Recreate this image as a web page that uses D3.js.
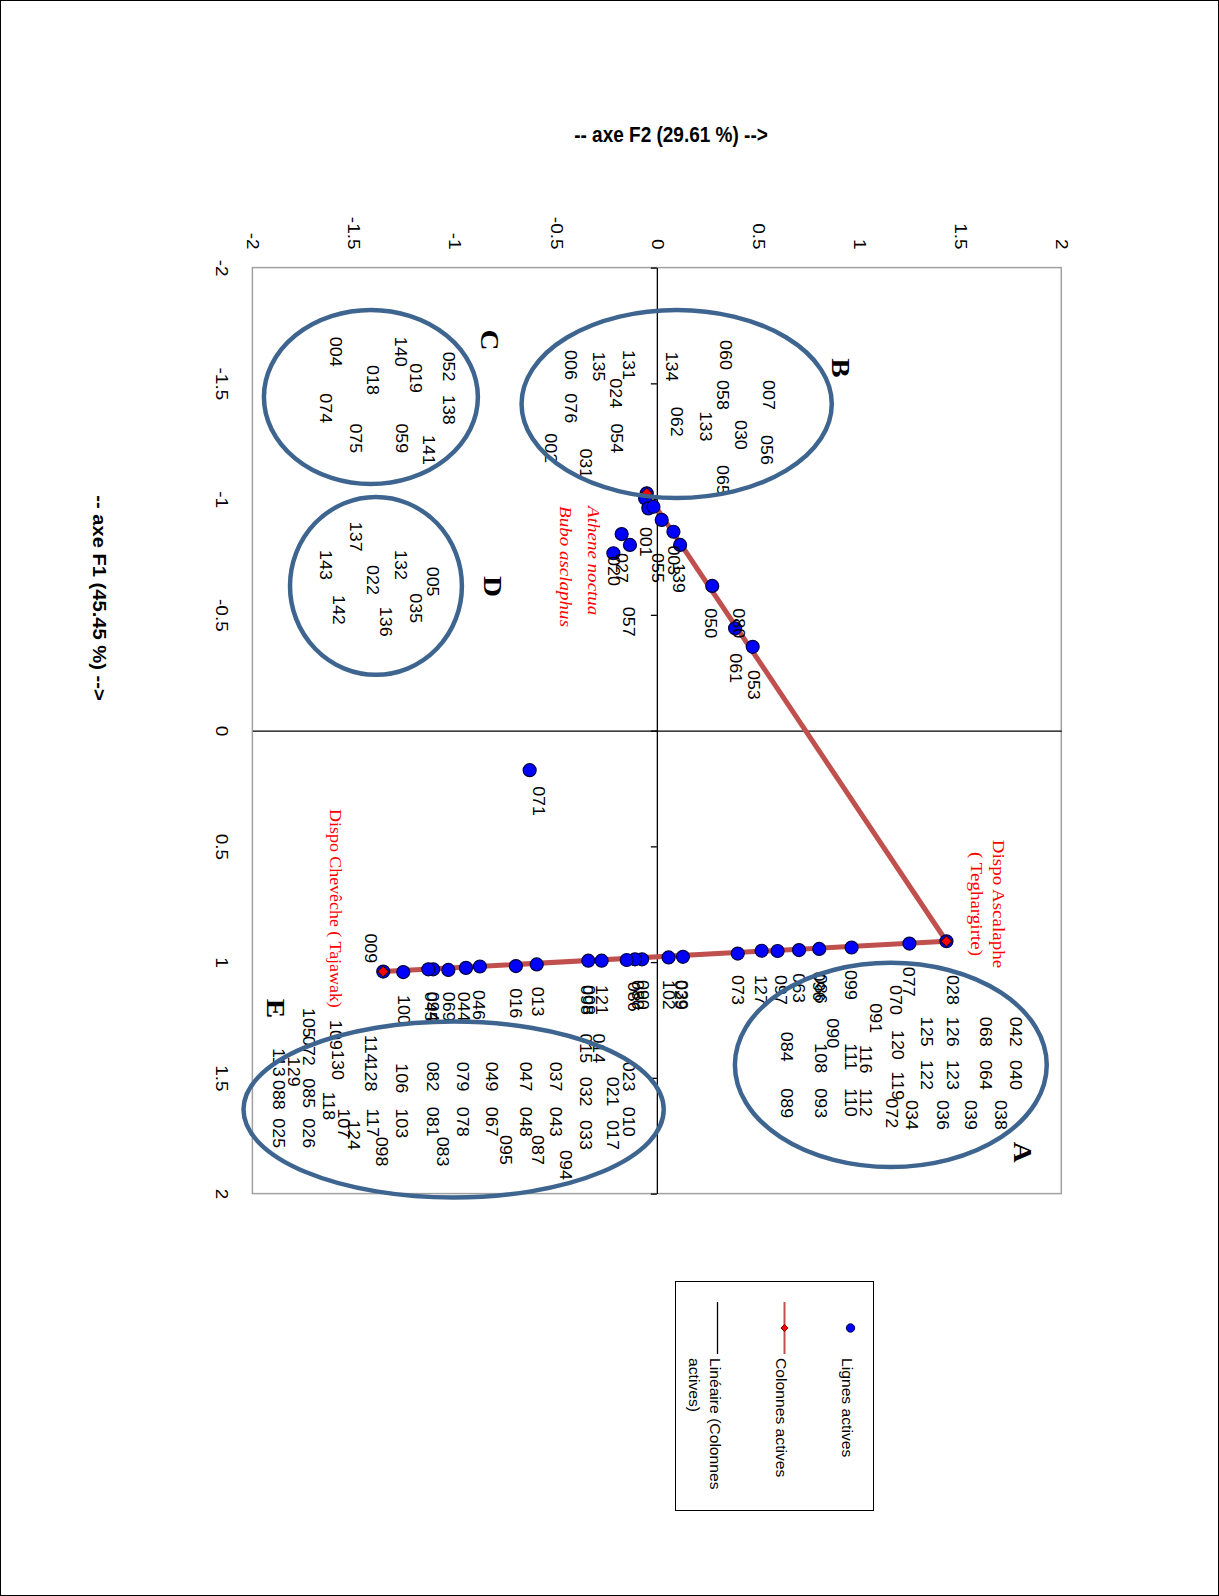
<!DOCTYPE html>
<html>
<head>
<meta charset="utf-8">
<script src="https://cdn.jsdelivr.net/npm/d3@7"></script>
<style>
  body { margin: 0; background: #fff; }
</style>
</head>
<body>
<script>
// axis ticks
const ticks = [-2, -1.5, -1, -0.5, 0, 0.5, 1, 1.5, 2];
const titleF2 = '-- axe F2 (29.61 %) -->';
const titleF1 = '-- axe F1 (45.45 %) -->';

// active columns [name, F2, F1] in line order
const columns = [
  ['Bubo', -0.050, -1.025],
  ['Ascalaphe', 1.432, 0.910],
  ['Cheveche', -1.353, 1.041]
];

// active rows (blue dots) [F2, F1]
const dotsTop = [
  [-0.050, -1.025], [-0.058, -1.003], [-0.042, -0.960], [-0.017, -0.967], [0.024, -0.910],
  [0.082, -0.859], [0.115, -0.802], [0.274, -0.625], [0.387, -0.442], [0.474, -0.362]
];
const dotsLoose = [
  [-0.174, -0.849], [-0.133, -0.802], [-0.215, -0.766], [-0.629, 0.171]
];
const dotsBottom = [
  [1.432, 0.910], [1.249, 0.920], [0.963, 0.937], [0.803, 0.943], [0.703, 0.948], [0.597, 0.952],
  [0.518, 0.951], [0.400, 0.963], [0.129, 0.977], [0.058, 0.980], [-0.073, 0.988],
  [-0.108, 0.988], [-0.149, 0.991], [-0.273, 0.994], [-0.339, 0.994], [-0.594, 1.010],
  [-0.697, 1.017], [-0.875, 1.019], [-0.944, 1.025], [-1.031, 1.034], [-1.106, 1.031],
  [-1.130, 1.031], [-1.254, 1.043], [-1.353, 1.041]
];

// row labels [text, F2, F1] (start of the text)
const labelsB = [
  ['007', 0.551, -1.514], ['056', 0.543, -1.277], ['060', 0.337, -1.687], ['058', 0.321, -1.514],
  ['030', 0.411, -1.342], ['133', 0.238, -1.378], ['065', 0.321, -1.147], ['134', 0.073, -1.637],
  ['062', 0.098, -1.399], ['131', -0.141, -1.644], ['135', -0.290, -1.637], ['024', -0.207, -1.522],
  ['006', -0.430, -1.644], ['076', -0.430, -1.457], ['054', -0.199, -1.327], ['031', -0.355, -1.219],
  ['002', -0.528, -1.284]
];
const labelsC = [
  ['052', -1.031, -1.637], ['138', -1.031, -1.450], ['141', -1.130, -1.277], ['059', -1.262, -1.327],
  ['019', -1.196, -1.587], ['140', -1.270, -1.701], ['018', -1.410, -1.579], ['004', -1.592, -1.701],
  ['074', -1.641, -1.457], ['075', -1.493, -1.327]
];
const labelsD = [
  ['005', -1.113, -0.708], ['035', -1.196, -0.593], ['132', -1.270, -0.780], ['136', -1.344, -0.535],
  ['022', -1.410, -0.715], ['142', -1.575, -0.586], ['137', -1.493, -0.902], ['143', -1.641, -0.780]
];
const labelsNear = [
  ['001', -0.059, -0.880], ['055', 0.000, -0.767], ['003', 0.080, -0.800], ['139', 0.106, -0.724],
  ['027', -0.174, -0.767], ['020', -0.215, -0.754], ['057', -0.141, -0.535], ['050', 0.263, -0.528],
  ['080', 0.403, -0.528], ['061', 0.386, -0.334], ['053', 0.477, -0.262], ['071', -0.585, 0.240]
];
const labelsLine = [
  ['028', 1.458, 1.056], ['077', 1.244, 1.020], ['070', 1.178, 1.099], ['091', 1.079, 1.178],
  ['099', 0.955, 1.034], ['096', 0.798, 1.041], ['086', 0.807, 1.051], ['063', 0.700, 1.048],
  ['097', 0.609, 1.056], ['127', 0.510, 1.056], ['073', 0.395, 1.056], ['029', 0.114, 1.077],
  ['039', 0.119, 1.077], ['102', 0.057, 1.077], ['086', -0.116, 1.085], ['080', -0.098, 1.077],
  ['090', -0.075, 1.077], ['121', -0.273, 1.099], ['098', -0.347, 1.099], ['008', -0.340, 1.099],
  ['013', -0.594, 1.106], ['016', -0.701, 1.113], ['046', -0.883, 1.121], ['044', -0.957, 1.128],
  ['069', -1.031, 1.128], ['045', -1.122, 1.128], ['094', -1.112, 1.128], ['100', -1.254, 1.142],
  ['009', -1.419, 0.876]
];
const labelsA = [
  ['042', 1.771, 1.236], ['040', 1.771, 1.423], ['038', 1.697, 1.596], ['068', 1.623, 1.236],
  ['064', 1.623, 1.423], ['039', 1.549, 1.596], ['126', 1.458, 1.236], ['123', 1.458, 1.423],
  ['036', 1.409, 1.596], ['125', 1.334, 1.236], ['122', 1.334, 1.423], ['034', 1.260, 1.596],
  ['120', 1.186, 1.293], ['119', 1.186, 1.473], ['072', 1.161, 1.588], ['116', 1.029, 1.358],
  ['112', 1.029, 1.545], ['111', 0.955, 1.351], ['110', 0.955, 1.545], ['090', 0.865, 1.243],
  ['108', 0.807, 1.351], ['093', 0.807, 1.545], ['084', 0.639, 1.301], ['089', 0.639, 1.545]
];
const labelsE = [
  ['105', -1.725, 1.198], ['072', -1.725, 1.319], ['109', -1.592, 1.250], ['130', -1.583, 1.380],
  ['114', -1.419, 1.315], ['128', -1.419, 1.430], ['106', -1.262, 1.437], ['103', -1.262, 1.632],
  ['117', -1.410, 1.632], ['098', -1.361, 1.754], ['082', -1.113, 1.430], ['081', -1.113, 1.625],
  ['083', -1.064, 1.754], ['079', -0.965, 1.430], ['078', -0.965, 1.625], ['049', -0.817, 1.430],
  ['067', -0.817, 1.625], ['095', -0.751, 1.747], ['047', -0.652, 1.430], ['048', -0.652, 1.625],
  ['087', -0.594, 1.747], ['037', -0.504, 1.430], ['043', -0.504, 1.625], ['094', -0.454, 1.812],
  ['015', -0.355, 1.308], ['014', -0.290, 1.308], ['032', -0.355, 1.495], ['033', -0.355, 1.682],
  ['023', -0.141, 1.430], ['021', -0.223, 1.495], ['010', -0.141, 1.625], ['017', -0.223, 1.682],
  ['113', -1.872, 1.372], ['129', -1.798, 1.409], ['088', -1.872, 1.509], ['025', -1.872, 1.675],
  ['085', -1.724, 1.502], ['026', -1.724, 1.675], ['118', -1.625, 1.560], ['107', -1.551, 1.632],
  ['124', -1.501, 1.682]
];

// groups: [letter, centre F2, centre F1, radius F2, radius F1, letter F2, letter F1]
const groups = [
  ['A', 1.157, 1.444, 0.771, 0.441, 1.812, 1.821],
  ['B', 0.098, -1.411, 0.767, 0.406, 0.910, -1.566],
  ['C', -1.414, -1.441, 0.529, 0.376, -0.825, -1.687],
  ['D', -1.389, -0.625, 0.425, 0.384, -0.809, -0.622],
  ['E', -1.005, 1.637, 1.039, 0.380, -1.882, 1.200]
];

// red column captions
const speciesLabels = [
  ['Athene noctua', -0.311, -0.970],
  ['Bubo asclaphus', -0.449, -0.970]
];
const ascalapheLines = ['Dispo Ascalaphe', '( Teghargirte)'];
const chevecheLabel = ['Dispo Chevêche ( Tajawak)', -1.589, 0.339];

const legendItems = ['Lignes actives', 'Colonnes actives', 'Linéaire  (Colonnes', 'actives)'];

const width = 1219;
const height = 1596;
const plot = { left: 252.4, right: 1061.3, top: 267.6, bottom: 1193.6 };
const K = 1.12; // the picture is stretched along the page height

const svg = d3.select('body').append('svg')
  .attr('width', width)
  .attr('height', height);

svg.append('rect')
  .attr('x', 0.5).attr('y', 0.5)
  .attr('width', width - 1).attr('height', height - 1)
  .attr('fill', '#fff').attr('stroke', '#000');

const x = d3.scaleLinear().domain([-2, 2]).range([plot.left, plot.right]);
const y = d3.scaleLinear().domain([-2, 2]).range([plot.top, plot.bottom]);

const sans = 'Liberation Sans, Arial, sans-serif';
const serif = 'Liberation Serif, Times New Roman, serif';

// plot frame
svg.append('rect')
  .attr('x', plot.left).attr('y', plot.top)
  .attr('width', plot.right - plot.left).attr('height', plot.bottom - plot.top)
  .attr('fill', 'none').attr('stroke', '#a0a0a0').attr('stroke-width', 1.5);

// tick labels
svg.append('g')
  .attr('transform', `translate(0,${plot.top - 18})`)
  .call(d3.axisTop(x).tickValues(ticks).tickFormat(d => String(d)).tickSize(0).tickPadding(0))
  .call(g => g.select('.domain').remove())
  .selectAll('text')
  .attr('y', 0).attr('dy', null)
  .attr('text-anchor', 'end')
  .attr('dominant-baseline', 'central')
  .attr('transform', `rotate(90) scale(${K},1)`)
  .attr('font-family', sans).attr('font-size', 17).attr('fill', '#000');

svg.append('g')
  .attr('transform', 'translate(222,0)')
  .call(d3.axisLeft(y).tickValues(ticks).tickFormat(d => String(d)).tickSize(0).tickPadding(0))
  .call(g => g.select('.domain').remove())
  .selectAll('text')
  .attr('x', 0).attr('dy', null)
  .attr('text-anchor', 'middle')
  .attr('dominant-baseline', 'central')
  .attr('transform', `rotate(90) scale(${K},1)`)
  .attr('font-family', sans).attr('font-size', 17).attr('fill', '#000');

// axis lines through the origin
svg.append('g')
  .attr('transform', `translate(${x(0)},0)`)
  .call(d3.axisLeft(y).tickValues(ticks).tickFormat('').tickSize(6).tickSizeOuter(0))
  .call(g => g.selectAll('path, line').attr('stroke', '#000').attr('stroke-width', 1.3));

svg.append('g')
  .attr('transform', `translate(0,${y(0)})`)
  .call(d3.axisTop(x).tickValues(ticks).tickFormat('').tickSize(0).tickSizeOuter(0))
  .call(g => g.selectAll('path, line').attr('stroke', '#000').attr('stroke-width', 1.3));

// axis titles
svg.append('text')
  .attr('transform', `translate(671,134) scale(1,1.18)`)
  .attr('text-anchor', 'middle').attr('dominant-baseline', 'central')
  .attr('font-family', sans).attr('font-weight', 'bold').attr('font-size', 19)
  .text(titleF2);

svg.append('text')
  .attr('transform', `translate(99,598) rotate(90) scale(${K},1)`)
  .attr('text-anchor', 'middle').attr('dominant-baseline', 'central')
  .attr('font-family', sans).attr('font-weight', 'bold').attr('font-size', 18)
  .text(titleF1);

// columns line
const line = d3.line().x(d => x(d[1])).y(d => y(d[2]));
svg.append('path')
  .datum(columns)
  .attr('d', line)
  .attr('fill', 'none')
  .attr('stroke', '#c0504d')
  .attr('stroke-width', 5)
  .attr('stroke-linejoin', 'round');

// rows
svg.append('g')
  .selectAll('circle')
  .data(dotsTop.concat(dotsLoose, dotsBottom))
  .join('circle')
  .attr('cx', d => x(d[0]))
  .attr('cy', d => y(d[1]))
  .attr('r', 6.5)
  .attr('fill', '#0000ff')
  .attr('stroke', '#000040')
  .attr('stroke-width', 1.2);

// column markers
const diamond = d3.symbol().type(d3.symbolSquare).size(60);
svg.append('g')
  .selectAll('path')
  .data(columns)
  .join('path')
  .attr('d', diamond)
  .attr('transform', d => `translate(${x(d[1])},${y(d[2])}) rotate(45)`)
  .attr('fill', '#ff0000')
  .attr('stroke', '#200000')
  .attr('stroke-width', 1);

// row labels
const allLabels = labelsB.concat(labelsC, labelsD, labelsNear, labelsLine, labelsA, labelsE);
svg.append('g')
  .selectAll('text')
  .data(allLabels)
  .join('text')
  .attr('transform', d => `translate(${x(d[1])},${y(d[2])}) rotate(90) scale(${K},1)`)
  .attr('text-anchor', 'start')
  .attr('dominant-baseline', 'central')
  .attr('font-family', sans)
  .attr('font-size', 16)
  .attr('fill', '#000')
  .text(d => d[0]);

// group ellipses and letters
svg.append('g')
  .selectAll('ellipse')
  .data(groups)
  .join('ellipse')
  .attr('cx', d => x(d[1]))
  .attr('cy', d => y(d[2]))
  .attr('rx', d => x(d[1] + d[3]) - x(d[1]))
  .attr('ry', d => y(d[2] + d[4]) - y(d[2]))
  .attr('fill', 'none')
  .attr('stroke', '#3e6590')
  .attr('stroke-width', 4.5);

svg.append('g')
  .selectAll('text')
  .data(groups)
  .join('text')
  .attr('transform', d => `translate(${x(d[5])},${y(d[6])}) rotate(90) scale(${K},1)`)
  .attr('text-anchor', 'middle')
  .attr('dominant-baseline', 'central')
  .attr('font-family', serif)
  .attr('font-weight', 'bold')
  .attr('font-size', 26)
  .text(d => d[0]);

// red captions
svg.append('g')
  .selectAll('text')
  .data(speciesLabels)
  .join('text')
  .attr('transform', d => `translate(${x(d[1])},${y(d[2])}) rotate(90) scale(${K},1)`)
  .attr('dominant-baseline', 'central')
  .attr('font-family', serif)
  .attr('font-style', 'italic')
  .attr('font-size', 17)
  .attr('fill', '#ff0000')
  .text(d => d[0]);

const asc = svg.append('text')
  .attr('transform', `translate(${x(1.690)},${y(0.749)}) rotate(90) scale(${K},1)`)
  .attr('text-anchor', 'middle')
  .attr('font-family', serif)
  .attr('font-size', 17)
  .attr('fill', '#ff0000');
asc.selectAll('tspan')
  .data(ascalapheLines)
  .join('tspan')
  .attr('x', 0)
  .attr('y', (d, i) => i * 22)
  .attr('dominant-baseline', 'central')
  .text(d => d);

svg.append('text')
  .attr('transform', `translate(${x(chevecheLabel[1])},${y(chevecheLabel[2])}) rotate(90) scale(${K},1)`)
  .attr('dominant-baseline', 'central')
  .attr('font-family', serif)
  .attr('font-size', 16)
  .attr('fill', '#ff0000')
  .text(chevecheLabel[0]);

// legend
const lg = svg.append('g');
lg.append('rect')
  .attr('x', 675.5).attr('y', 1281.5)
  .attr('width', 198).attr('height', 229)
  .attr('fill', '#fff').attr('stroke', '#000');

lg.append('circle')
  .attr('cx', 850.5).attr('cy', 1328)
  .attr('r', 4.2).attr('fill', '#0000ff').attr('stroke', '#000040');

lg.append('line')
  .attr('x1', 784.5).attr('x2', 784.5).attr('y1', 1302).attr('y2', 1354)
  .attr('stroke', '#c0504d').attr('stroke-width', 2);
lg.append('path')
  .attr('d', d3.symbol().type(d3.symbolSquare).size(26))
  .attr('transform', 'translate(784.5,1328) rotate(45)')
  .attr('fill', '#ff0000').attr('stroke', '#400000').attr('stroke-width', 0.8);

lg.append('line')
  .attr('x1', 717.5).attr('x2', 717.5).attr('y1', 1302).attr('y2', 1354)
  .attr('stroke', '#000').attr('stroke-width', 1.3);

const legendPos = [[847, 1358], [781, 1358], [715, 1358], [694, 1358]];
lg.selectAll('text.lg')
  .data(legendItems)
  .join('text')
  .attr('class', 'lg')
  .attr('transform', (d, i) => `translate(${legendPos[i][0]},${legendPos[i][1]}) rotate(90) scale(${K},1)`)
  .attr('dominant-baseline', 'central')
  .attr('font-family', sans)
  .attr('font-size', 14)
  .text(d => d);
</script>
</body>
</html>
